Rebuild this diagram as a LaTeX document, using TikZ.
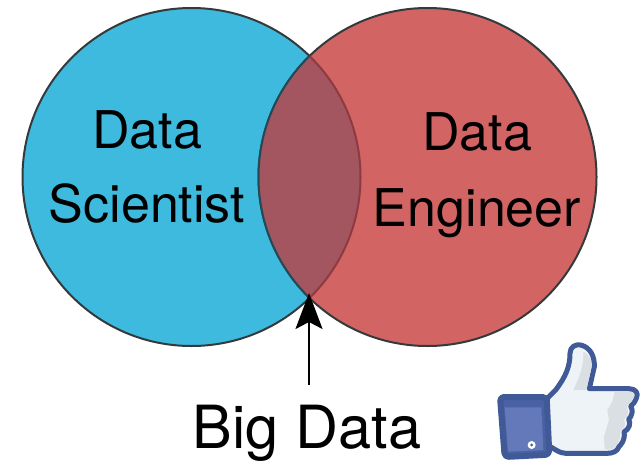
\documentclass[tikz,border=0pt]{standalone}
\usepackage{fontspec}
\setmainfont{TeX Gyre Heros}
\usetikzlibrary{arrows.meta}
\definecolor{cblue}{HTML}{3FBADF}
\definecolor{cred}{HTML}{D26464}
\definecolor{cmix}{HTML}{A35560}
\definecolor{cline}{HTML}{34393C}
\definecolor{cteal}{HTML}{234A55}
\definecolor{cedge}{HTML}{8E3A40}
\definecolor{fbblue}{HTML}{3F5A96}
\definecolor{fbdark}{HTML}{4A62A4}
\definecolor{fbmid}{HTML}{6479BA}
\definecolor{fbhand}{HTML}{EEF3F8}
\definecolor{fbshade}{HTML}{D9DFE3}
\tikzset{
  venn/.style={circle,minimum size=338pt,inner sep=0pt,line width=2pt,draw=cline},
  lab/.style={inner sep=0pt,anchor=base,font=\fontsize{52pt}{56pt}\selectfont,text=black},
  biglab/.style={inner sep=0pt,anchor=base,font=\fontsize{59.5pt}{62pt}\selectfont,text=black},
  thumbline/.style={draw=fbblue,line width=5pt,line join=round},
}
\begin{document}
\begin{tikzpicture}[x=1pt,y=-1pt]
\useasboundingbox (0,0) rectangle (644,466);
\fill[white] (0,0) rectangle (644,466);
\node[venn,fill=cblue] (A) at (191.5,177) {};
\node[venn,fill=cred] (B) at (427.5,177) {};
\begin{scope}
  \clip (191.5,177) circle (169pt);
  \fill[cmix] (427.5,177) circle (169pt);
  \draw[cteal,line width=2pt] (427.5,177) circle (169pt);
\end{scope}
\begin{scope}
  \clip (427.5,177) circle (168pt);
  \draw[cedge,line width=2pt] (191.5,177) circle (169pt);
\end{scope}
\node[lab] (d1) at (147,148) {Data};
\node[lab] (s1) at (147,222) {Scientist};
\node[lab] (d2) at (477,150) {Data};
\node[lab] (e1) at (477,226) {Engineer};
\node[biglab] (bd) at (307,448) {Big Data};
\coordinate (tip) at (309,293);
\coordinate (tail) at (309,385);
\draw[line width=2pt,-{Stealth[length=36pt,width=27pt,inset=7pt]},black] (tail) -- (tip);
% thumb
\begin{scope}[shift={(484,330)},x=0.3333pt,y=-0.3333pt]
  \path[fill=fbhand,thumbline] (190,205) -- (215,180) .. controls (245,140) and (258,110) .. (258,70)
    .. controls (258,50) and (275,42) .. (290,45)
    .. controls (320,52) and (332,80) .. (331,110) -- (316,176) -- (435,176)
    .. controls (455,176) and (465,190) .. (457,205)
    .. controls (452,218) and (445,225) .. (440,228)
    .. controls (448,240) and (445,258) .. (434,268)
    .. controls (442,280) and (435,298) .. (420,306)
    .. controls (425,330) and (410,345) .. (405,350)
    .. controls (400,365) and (385,370) .. (370,370)
    -- (245,370) .. controls (225,370) and (210,355) .. (190,345) -- cycle;
  \fill[fbshade] (268,180) .. controls (290,135) and (300,100) .. (298,65)
    .. controls (318,75) and (325,95) .. (322,115) -- (307,180) -- cycle;
  \fill[fbshade] (392,186) -- (440,186) .. controls (450,186) and (455,195) .. (448,205)
    .. controls (440,218) and (432,225) .. (428,230) .. controls (436,245) and (432,258) .. (420,268)
    .. controls (428,285) and (420,298) .. (408,305) .. controls (412,325) and (402,345) .. (385,358)
    -- (362,358) -- (360,320) -- (375,270) -- (370,240) -- (385,215) -- cycle;
  \path[fill=fbdark,draw=fbblue,line width=6pt,line join=round,rounded corners=4pt]
    (48,201) -- (188,201) -- (196,374) -- (62,381) -- cycle;
  \fill[fbmid] (62,232) -- (172,232) -- (178,360) -- (72,365) -- cycle;
  \fill[white] (143,345) circle (12);
  \fill[fbblue] (143,345) circle (4.5);
\end{scope}
\end{tikzpicture}
\end{document}
